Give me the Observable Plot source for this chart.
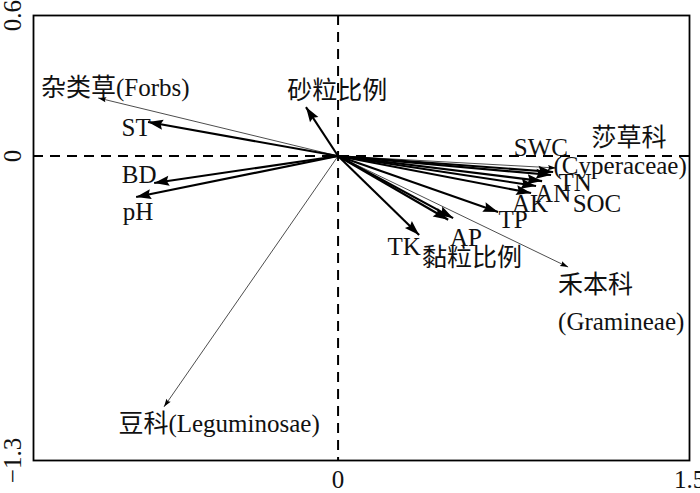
<!DOCTYPE html>
<html>
<head>
<meta charset="utf-8">
<script src="https://cdn.jsdelivr.net/npm/d3@7"></script>
<script src="https://cdn.jsdelivr.net/npm/@observablehq/plot@0.6"></script>
<style>
body { margin: 0; background: #fff; }
</style>
</head>
<body>
<div id="chart"></div>
<script>
// Environmental variables (RDA1, RDA2 arrow tips)
const envNames = ["ST", "BD", "pH", "砂粒比例", "SWC", "TN", "SOC", "AN", "AK", "TP", "AP", "TK", "黏粒比例"];
const envRDA1  = [-0.811, -0.785, -0.862, -0.137, 0.918, 0.909, 0.871, 0.845, 0.824, 0.683, 0.491, 0.346, 0.47];
const envRDA2  = [ 0.145, -0.115, -0.175,  0.209, -0.068, -0.081, -0.107, -0.128, -0.158, -0.239, -0.265, -0.337, -0.272];

// Plant functional groups (species arrows)
const spNames = ["杂类草(Forbs)", "莎草科(Cyperaceae)", "禾本科(Gramineae)", "豆科(Leguminosae)"];
const spRDA1  = [-1.024, 0.93, 0.982, -0.743];
const spRDA2  = [ 0.248, -0.051, -0.474, -1.071];

// Label texts and their positions (data units)
const labelText = ["ST", "BD", "pH", "砂粒比例", "SWC", "TN", "SOC", "AN", "AK", "TP", "AP", "TK", "黏粒比例",
                   "莎草科", "(Cyperaceae)", "豆科(Leguminosae)"];
const labelX = [-0.862, -0.849, -0.854, -0.004, 0.866, 1.012, 1.105, 0.918, 0.819, 0.747, 0.546, 0.282, 0.572,
                1.242, 1.204, -0.508];
const labelY = [ 0.120, -0.081, -0.239, 0.277, 0.034, -0.115, -0.205, -0.162, -0.205, -0.273, -0.350, -0.388, -0.435,
                 0.077, -0.043, -1.144];
// Left-aligned labels
const labelStartText = ["杂类草(Forbs)", "禾本科", "(Gramineae)"];
const labelStartX = [-1.268, 0.939, 0.939];
const labelStartY = [ 0.290, -0.551, -0.708];

// Axis ticks
const xTicks = [0, 1.5];
const yTicks = [-1.3, 0, 0.6];
const xDomain = [-1.3, 1.5];
const yDomain = [-1.3, 0.6];

const env = envNames.map((n, i) => ({name: n, x: envRDA1[i], y: envRDA2[i]}));
const sp = spNames.map((n, i) => ({name: n, x: spRDA1[i], y: spRDA2[i]}));
const labels = labelText.map((t, i) => ({t, x: labelX[i], y: labelY[i]}));
const labelsStart = labelStartText.map((t, i) => ({t, x: labelStartX[i], y: labelStartY[i]}));

const W = 700, H = 493, mL = 33, mR = 11, mT = 15, mB = 33;
const kx = (W - mL - mR) / (xDomain[1] - xDomain[0]);
const ky = (H - mT - mB) / (yDomain[1] - yDomain[0]);
const angle = d => Math.atan2(d.x * kx, d.y * ky) * 180 / Math.PI;

const head = {
  draw(ctx, l, r) {
    ctx.moveTo(0, -l);
    ctx.lineTo(-r, 0);
    ctx.lineTo(0, -l * 0.15);
    ctx.lineTo(r, 0);
    ctx.closePath();
  }
};

const fmt = v => (v < 0 ? "−" : "") + Math.abs(v);
const font = "'Liberation Serif', 'Times New Roman', 'Noto Sans CJK SC', serif";

const chart = Plot.plot({
  width: W, height: H,
  marginLeft: mL, marginRight: mR, marginTop: mT, marginBottom: mB,
  x: {domain: xDomain, axis: null},
  y: {domain: yDomain, axis: null},
  style: {background: "white", fontFamily: font, overflow: "visible"},
  marks: [
    Plot.ruleX([0], {stroke: "black", strokeWidth: 2, strokeDasharray: "10,7"}),
    Plot.ruleY([0], {stroke: "black", strokeWidth: 2, strokeDasharray: "10,7"}),
    // species arrows (thin)
    Plot.link(sp, {x1: () => 0, y1: () => 0, x2: "x", y2: "y", stroke: "black", strokeWidth: 0.7}),
    Plot.vector(sp, {x: "x", y: "y", rotate: angle, length: 8, r: 2.6, anchor: "end", shape: head, fill: "black", stroke: "none"}),
    // environmental arrows (thick)
    Plot.link(env, {x1: () => 0, y1: () => 0, x2: "x", y2: "y", stroke: "black", strokeWidth: 2.1}),
    Plot.vector(env, {x: "x", y: "y", rotate: angle, length: 15, r: 5, anchor: "end", shape: head, fill: "black", stroke: "none"}),
    // labels
    Plot.text(labels, {x: "x", y: "y", text: "t", fontSize: 25, fill: "#111", fontFamily: font}),
    Plot.text(labelsStart, {x: "x", y: "y", text: "t", fontSize: 25, fill: "#111", textAnchor: "start", fontFamily: font}),
    // tick labels
    Plot.text(xTicks, {x: d => d, frameAnchor: "bottom", dy: 19, lineAnchor: "middle", textAnchor: "middle", text: fmt, fontSize: 25, fill: "#111", fontFamily: font}),
    Plot.text(yTicks, {y: d => d, frameAnchor: "left", dx: -21, rotate: -90, textAnchor: "middle", lineAnchor: "middle", text: fmt, fontSize: 25, fill: "#111", fontFamily: font}),
    Plot.frame({stroke: "black", strokeWidth: 1.8})
  ]
});
document.getElementById("chart").appendChild(chart);
</script>
</body>
</html>
